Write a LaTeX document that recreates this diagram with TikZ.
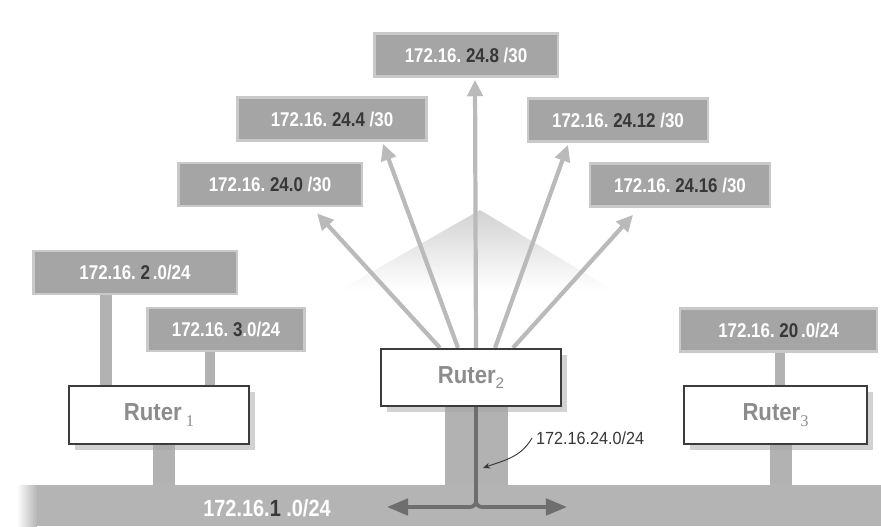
\documentclass[tikz,border=0pt]{standalone}
\usepackage{fontspec}
\setmainfont{Liberation Sans}
\newfontfamily\subserif{Liberation Serif}
\usetikzlibrary{calc,shadows,backgrounds,arrows.meta}

\definecolor{boxgray}{RGB}{165,165,165}
\definecolor{busgray}{RGB}{180,180,180}
\definecolor{stemgray}{RGB}{178,178,178}
\definecolor{arrowgray}{RGB}{186,186,186}
\definecolor{textdark}{RGB}{55,55,55}
\definecolor{framegray}{RGB}{60,60,60}
\definecolor{rutertext}{RGB}{140,140,140}
\definecolor{teegray}{RGB}{110,110,110}

\newcommand{\netlab}[3]{\scalebox{0.85}[1]{\textcolor{white}{#1}\textcolor{textdark}{#2}\textcolor{white}{#3}}}
\newcommand{\rsub}[1]{\raisebox{-0.45ex}{\mdseries\fontsize{13}{13}\selectfont #1}}
\newcommand{\rsubserif}[1]{\raisebox{-0.45ex}{\subserif\mdseries\fontsize{14}{14}\selectfont #1}}

\tikzset{
  netbox/.style={fill=boxgray, draw=boxgray!60, line width=2pt, minimum width=5.5cm,
    minimum height=1.3cm, font=\bfseries\fontsize{17}{19}\selectfont},
  ruter/.style={fill=white, draw=framegray, line width=1.6pt, minimum height=1.72cm,
    drop shadow={shadow xshift=5pt, shadow yshift=-5pt, fill=gray!70},
    text=rutertext, font=\bfseries\fontsize{21}{23}\selectfont},
  busbar/.style={fill=busgray, inner sep=0pt},
  stemline/.style={draw=stemgray, line width=#1},
  fanarrow/.style={draw=arrowgray, line width=3.6pt, -{Triangle[length=14pt,width=13pt]}},
  teearrow/.style={draw=teegray, line width=3.2pt, rounded corners=5pt,
    -{Triangle[length=18pt,width=14pt]}},
  callout/.style={draw=textdark, line width=0.8pt, -{Stealth[length=6pt,width=5pt]}},
}

\begin{document}
\begin{tikzpicture}[x=0.03cm, y=0.03cm]
\useasboundingbox (0,0) rectangle (881,526);

% the shared bus
\node[busbar, minimum width=25.32cm, minimum height=1.23cm] (bus) at (459,20.5) {};
\shade[left color=white, right color=busgray] (17,0) rectangle (37,41);
\node[font=\bfseries\fontsize{20}{22}\selectfont] (buslab) at (267,18) {\netlab{172.16.}{1}{\ .0/24}};

% subnets
\node[netbox] (net24d8) at (466,471) {\netlab{172.16.\ }{24.8}{\ /30}};
\node[netbox, minimum width=5.67cm] (net24d4) at (332,407) {\netlab{172.16.\ }{24.4}{\ /30}};
\node[netbox, minimum width=5.4cm] (net24d12) at (618,406) {\netlab{172.16.\ }{24.12}{\ /30}};
\node[netbox] (net24d0) at (270,341.5) {\netlab{172.16.\ }{24.0}{\ /30}};
\node[netbox, minimum width=5.4cm] (net24d16) at (680,341) {\netlab{172.16.\ }{24.16}{\ /30}};
\node[netbox, minimum width=6.1cm] (net2) at (135,253.5) {\netlab{172.16.\ }{2}{\,.0/24}};
\node[netbox, minimum width=4.7cm] (net3) at (226,196.5) {\netlab{172.16.\ }{3}{.0/24}};
\node[netbox, minimum width=5.9cm] (net20) at (778.5,196) {\netlab{172.16.\ }{20}{\,.0/24}};

% routers
\node[ruter, minimum width=5.4cm] (r1) at (159,111) {\scalebox{0.9}[1]{Ruter}\,\rsubserif{1}};
\node[ruter, minimum width=5.4cm] (r2) at (471,148.5) {\scalebox{0.9}[1]{Ruter}\rsub{2}};
\node[ruter, minimum width=5.5cm] (r3) at (775.5,111) {\scalebox{0.9}[1]{Ruter}\rsubserif{3}};

\begin{scope}[on background layer]
% faint fan behind the arrows
\shade[top color=gray!35, bottom color=white] (480,316) -- (613,236) -- (340,236) -- cycle;
\draw[stemline=0.36cm] ([xshift=-1.59cm]r1.north) -- ([xshift=-1.59cm]r1.north |- net2.south);
\draw[stemline=0.3cm] ([xshift=1.53cm]r1.north) -- ([xshift=1.53cm]r1.north |- net3.south);
\draw[stemline=0.66cm] ([xshift=0.15cm]r1.south) -- ([xshift=0.15cm]r1.south |- bus.north);
\draw[stemline=0.3cm] ([xshift=0.14cm]r3.north) -- ([xshift=0.14cm]r3.north |- net20.south);
\draw[stemline=0.66cm] ([xshift=0.17cm]r3.south) -- ([xshift=0.17cm]r3.south |- bus.north);
\draw[stemline=1.89cm] ([xshift=0.17cm]r2.south) -- ([xshift=0.17cm]r2.south |- bus.north);
\foreach \net/\dx/\ex/\ey in {net24d0/-0.93/47/-6, net24d4/-0.39/51/-2, net24d8/0.15/9/-2,
    net24d12/0.72/-50/-2, net24d16/1.26/-47/-7}
  \draw[fanarrow] ([xshift=\dx cm]r2.north) -- ($(\net.south)+(\ex,\ey)$);
\end{scope}

% split onto the bus
\coordinate (teeW) at (387,19);
\coordinate (teeE) at (567,19);
\draw[teearrow] ([xshift=0.15cm]r2.south) |- (teeW);
\draw[teearrow] ([xshift=0.15cm]r2.south) |- (teeE);

\node[font=\fontsize{15}{17}\selectfont, text=textdark, anchor=west] (lan24) at (532,88) {\scalebox{0.92}[1]{172.16.24.0/24}};
\coordinate (lantip) at (483,58);
\draw[callout] (lan24.west) to[out=240, in=20] (lantip);
\end{tikzpicture}
\end{document}
